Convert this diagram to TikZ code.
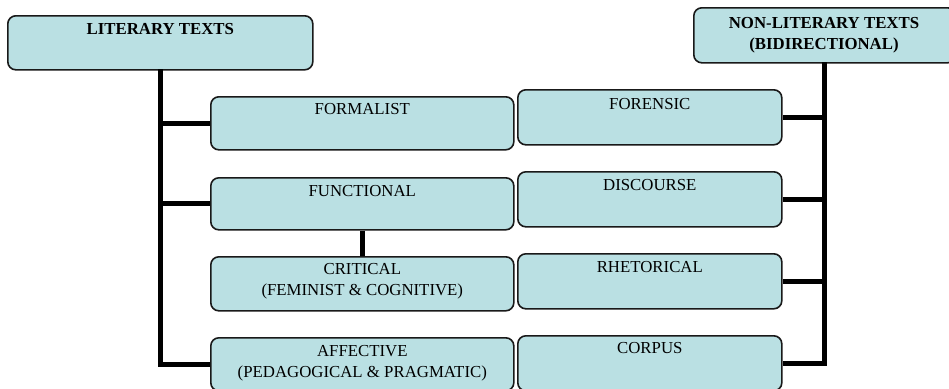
\documentclass[tikz,border=0pt]{standalone}
\usepackage{fontspec}
\setmainfont{Liberation Serif}
\definecolor{boxfill}{RGB}{186,224,227}
\definecolor{boxline}{RGB}{25,25,25}
\begin{document}
\begin{tikzpicture}[x=1pt,y=-1pt,
  box/.style={draw=boxline,line width=1.6pt,fill=boxfill,rounded corners=8pt,
    inner sep=0pt,anchor=north west},
  lbl/.style={anchor=north,inner sep=0pt,align=center,
    font=\fontsize{16.8}{20.5}\selectfont},
  blbl/.style={lbl,font=\fontsize{16.8}{21}\selectfont\bfseries},
  conn/.style={line width=5pt,draw=black}]
\useasboundingbox (0,0) rectangle (949,388);
\clip (0,0) rectangle (949,388);
% top boxes
\node[box,minimum width=305pt,minimum height=54pt] (lit) at (7,15) {};
\node[box,minimum width=262pt,minimum height=55pt] (nonlit) at (693,7) {};
% left column
\node[box,minimum width=303pt,minimum height=53pt] (formalist) at (210,96) {};
\node[box,minimum width=303pt,minimum height=52pt] (functional) at (210,177) {};
\node[box,minimum width=303pt,minimum height=54pt] (critical) at (210,256) {};
\node[box,minimum width=303pt,minimum height=53pt] (affective) at (210,337) {};
% right column
\node[box,minimum width=264pt,minimum height=55pt] (forensic) at (517,89) {};
\node[box,minimum width=264pt,minimum height=55pt] (discourse) at (517,171) {};
\node[box,minimum width=264pt,minimum height=55pt] (rhetorical) at (517,253) {};
\node[box,minimum width=264pt,minimum height=55pt] (corpus) at (517,335) {};
% connectors
\coordinate (lv) at (160,69);
\coordinate (rv) at (824,62);
\draw[conn] (lv) |- (affective.west);
\draw[conn] (lv |- formalist.west) -- (formalist.west);
\draw[conn] (lv |- functional.west) -- (functional.west);
\draw[conn] (functional.south) -- (critical.north);
\draw[conn] (rv) |- (corpus.east);
\draw[conn] (rv |- forensic.east) -- (forensic.east);
\draw[conn] (rv |- discourse.east) -- (discourse.east);
\draw[conn] (rv |- rhetorical.east) -- (rhetorical.east);
% labels
\node[blbl] (litT) at ([yshift=-7.7pt]lit.north) {LITERARY TEXTS};
\node[blbl] (nonlitT) at (824,16.7) {NON-LITERARY TEXTS\\(BIDIRECTIONAL)};
\node[lbl] (formalistT) at ([yshift=-7.5pt]formalist.north) {FORMALIST};
\node[lbl] (functionalT) at ([yshift=-8pt]functional.north) {FUNCTIONAL};
\node[lbl] (criticalT) at ([yshift=-7.5pt]critical.north) {CRITICAL\\(FEMINIST \& COGNITIVE)};
\node[lbl] (affectiveT) at ([yshift=-8.5pt]affective.north) {AFFECTIVE\\(PEDAGOGICAL \& PRAGMATIC)};
\node[lbl] (forensicT) at ([yshift=-9pt]forensic.north) {FORENSIC};
\node[lbl] (discourseT) at ([yshift=-8pt]discourse.north) {DISCOURSE};
\node[lbl] (rhetoricalT) at ([yshift=-8pt]rhetorical.north) {RHETORICAL};
\node[lbl] (corpusT) at ([yshift=-7pt]corpus.north) {CORPUS};
\end{tikzpicture}
\end{document}
